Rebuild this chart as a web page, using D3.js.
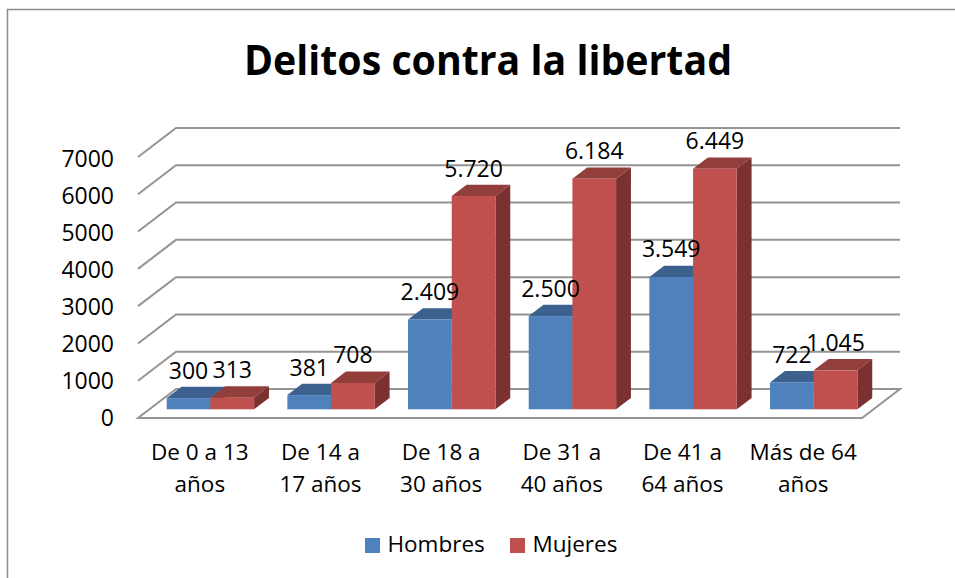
<!DOCTYPE html>
<html><head><meta charset="utf-8">
<script src="https://cdn.jsdelivr.net/npm/d3@7"></script>
<style>html,body{margin:0;padding:0;background:#fff}svg{display:block}text{font-family:"Open Sans","Noto Sans",sans-serif;fill:#000}</style>
</head><body><svg id="c" width="955" height="578"></svg>
<script>
const categories = [["De 0 a 13","años"],["De 14 a","17 años"],["De 18 a","30 años"],["De 31 a","40 años"],["De 41 a","64 años"],["Más de 64","años"]];
const hombres = [300,381,2409,2500,3549,722];
const mujeres = [313,708,5720,6184,6449,1045];
const hombresLabels = ["300","381","2.409","2.500","3.549","722"];
const mujeresLabels = ["313","708","5.720","6.184","6.449","1.045"];
const yTicks = [0,1000,2000,3000,4000,5000,6000,7000];
const seriesNames = ["Hombres","Mujeres"];
const titleText = "Delitos contra la libertad";

const svg = d3.select("#c");
const ids = categories.map((d,i)=>i);
const x = d3.scaleBand().domain(ids).range([138,862]).paddingInner(0).paddingOuter(0);
const y = d3.scaleLinear().domain([0,7000]).range([418,157]);
const yLabel = d3.scaleLinear().domain([0,7000]).range([426,167]);
const DX=38, DY=-29;
const grid="#949494";
// border: top and left edges only
svg.append("path").attr("d","M7.5,578V9.5H955").attr("fill","none").attr("stroke","#8c8c8c").attr("stroke-width",1.5);
// title
svg.append("text").attr("x",488).attr("y",75).attr("text-anchor","middle").attr("font-size",41).attr("font-weight",700).attr("textLength",488).attr("lengthAdjust","spacingAndGlyphs").text(titleText);
// gridlines
yTicks.forEach(t=>{
  svg.append("path").attr("fill","none").attr("stroke",grid).attr("stroke-width",2)
   .attr("d", t===0
     ? `M${x.range()[0]},${y(0)}L${x.range()[0]+DX},${y(0)+DY}H${x.range()[1]+DX}L${x.range()[1]},${y(0)}Z`
     : `M${x.range()[0]},${y(t)}L${x.range()[0]+DX},${y(t)+DY}H${x.range()[1]+DX}`);
});
// y axis labels
svg.selectAll(".yl").data(yTicks).join("text").attr("x",114).attr("y",d=>yLabel(d)).attr("text-anchor","end").attr("font-size",23).text(d=>d);
// bars
const f=0.3, bw=43.7, startOff=17.3, depth=0.39;
function bar(cx,v,front,side,top){
  const b=y(0)+DY*f, xx=cx+DX*f, t=b-(y(0)-y(v)), dx=DX*depth, dy=DY*depth;
  const g=svg.append("g");
  g.append("path").attr("fill",top).attr("d",`M${xx},${t}l${dx},${dy}h${bw}l${-dx},${-dy}Z`);
  g.append("path").attr("fill",side).attr("d",`M${xx+bw},${t}l${dx},${dy}V${b+dy}l${-dx},${-dy}Z`);
  g.append("rect").attr("x",xx).attr("y",t).attr("width",bw).attr("height",b-t).attr("fill",front);
}
ids.forEach(i=>{
  const x0=x(i)+startOff;
  bar(x0,hombres[i],"#4f81bd","#2f5077","#3c618f");
  bar(x0+bw,mujeres[i],"#c0504d","#7a3130","#923e3b");
});
// data labels
const yFor=(v)=>y(v)+DY*f-19.5;
ids.forEach(i=>{
  const x0=x(i)+startOff+DX*f;
  svg.append("text").attr("x",x0+bw/2).attr("y",yFor(hombres[i])).attr("text-anchor","middle").attr("font-size",23).text(hombresLabels[i]);
  svg.append("text").attr("x",x0+bw*1.5).attr("y",yFor(mujeres[i])).attr("text-anchor","middle").attr("font-size",23).text(mujeresLabels[i]);
});
// category labels
ids.forEach(i=>{
  const cx=x(i)+x.bandwidth()/2+1.5;
  categories[i].forEach((l,j)=>svg.append("text").attr("x",cx).attr("y",460+j*32).attr("text-anchor","middle").attr("font-size",22.5).text(l));
});
// legend
const lx=[365,510], tx=[387.5,532.5];
seriesNames.forEach((n,i)=>{
  svg.append("rect").attr("x",lx[i]).attr("y",538).attr("width",15).attr("height",15).attr("fill",["#4f81bd","#c0504d"][i]);
  svg.append("text").attr("x",tx[i]).attr("y",552).attr("font-size",22.5).text(n);
});
</script></body></html>
